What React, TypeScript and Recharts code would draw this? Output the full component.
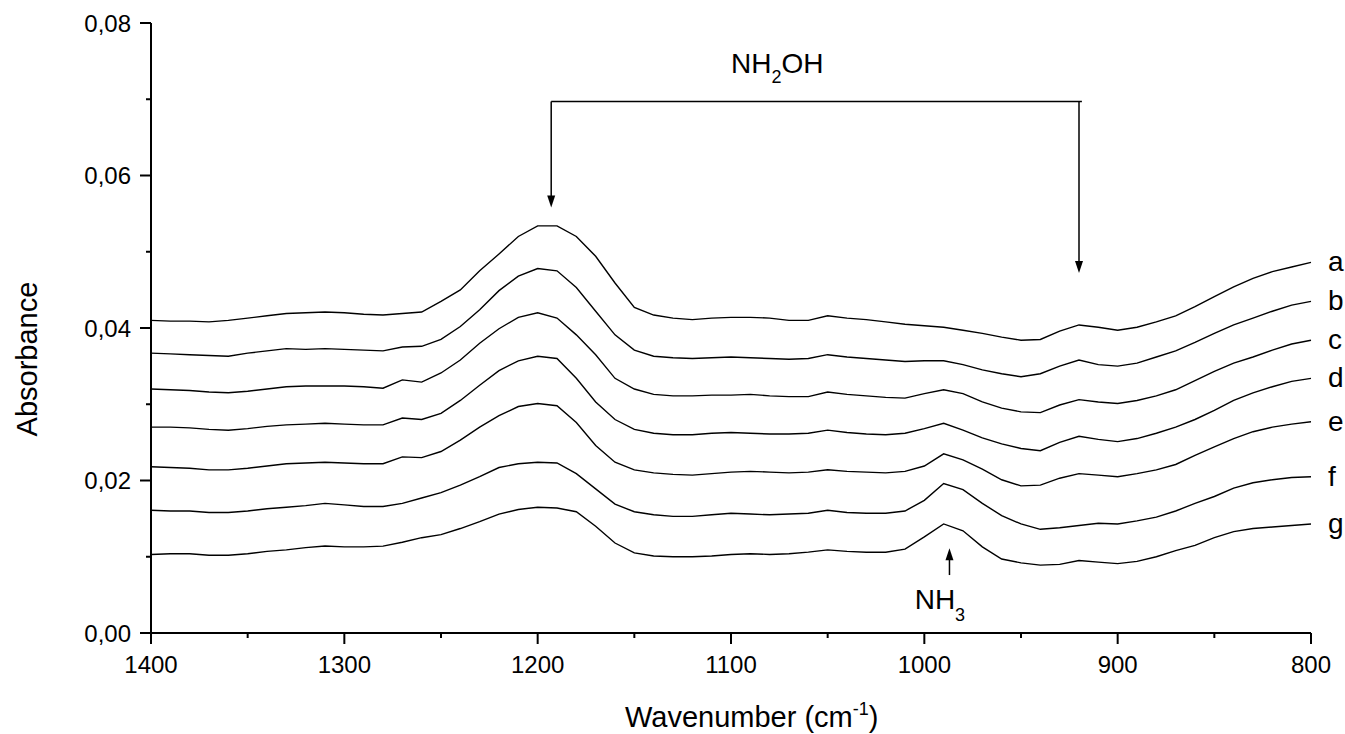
import { LineChart, Line, XAxis, YAxis, ReferenceLine, ReferenceDot } from 'recharts';

const FONT = '"Liberation Sans", Arial, sans-serif';

// wavenumbers, 1400 -> 800 cm-1
const wavenumbers = [
  1400, 1390, 1380, 1370, 1360, 1350, 1340, 1330, 1320, 1310,
  1300, 1290, 1280, 1270, 1260, 1250, 1240, 1230, 1220, 1210,
  1200, 1190, 1180, 1170, 1160, 1150, 1140, 1130, 1120, 1110,
  1100, 1090, 1080, 1070, 1060, 1050, 1040, 1030, 1020, 1010,
  1000, 990, 980, 970, 960, 950, 940, 930, 920, 910,
  900, 890, 880, 870, 860, 850, 840, 830, 820, 810, 800,
];

const spectrumA = [
  0.0410, 0.0409, 0.0409, 0.0408, 0.0410, 0.0413, 0.0416, 0.0419, 0.0420, 0.0421,
  0.0420, 0.0418, 0.0417, 0.0419, 0.0421, 0.0435, 0.0450, 0.0475, 0.0497, 0.0520,
  0.0534, 0.0534, 0.0520, 0.0494, 0.0459, 0.0427, 0.0417, 0.0413, 0.0411, 0.0413,
  0.0414, 0.0414, 0.0413, 0.0410, 0.0410, 0.0416, 0.0413, 0.0411, 0.0408, 0.0405,
  0.0403, 0.0401, 0.0397, 0.0393, 0.0388, 0.0384, 0.0385, 0.0396, 0.0404, 0.0401,
  0.0397, 0.0401, 0.0408, 0.0416, 0.0428, 0.0441, 0.0454, 0.0465, 0.0474, 0.0480, 0.0486,
];
const spectrumB = [
  0.0367, 0.0366, 0.0365, 0.0364, 0.0363, 0.0367, 0.0370, 0.0373, 0.0372, 0.0373,
  0.0372, 0.0371, 0.0370, 0.0375, 0.0376, 0.0385, 0.0402, 0.0424, 0.0449, 0.0468,
  0.0478, 0.0475, 0.0453, 0.0422, 0.0391, 0.0371, 0.0363, 0.0361, 0.0360, 0.0361,
  0.0362, 0.0361, 0.0360, 0.0359, 0.0360, 0.0365, 0.0362, 0.0360, 0.0358, 0.0356,
  0.0357, 0.0357, 0.0352, 0.0345, 0.0340, 0.0336, 0.0340, 0.0350, 0.0358, 0.0352,
  0.0350, 0.0354, 0.0362, 0.0370, 0.0381, 0.0393, 0.0404, 0.0413, 0.0422, 0.0430, 0.0435,
];
const spectrumC = [
  0.0320, 0.0319, 0.0318, 0.0316, 0.0315, 0.0317, 0.0320, 0.0323, 0.0324, 0.0324,
  0.0324, 0.0323, 0.0321, 0.0332, 0.0329, 0.0341, 0.0358, 0.0380, 0.0399, 0.0414,
  0.0420, 0.0413, 0.0391, 0.0365, 0.0334, 0.0320, 0.0313, 0.0311, 0.0311, 0.0312,
  0.0312, 0.0313, 0.0311, 0.0310, 0.0310, 0.0316, 0.0313, 0.0311, 0.0309, 0.0308,
  0.0314, 0.0319, 0.0314, 0.0303, 0.0295, 0.0290, 0.0289, 0.0299, 0.0306, 0.0303,
  0.0301, 0.0305, 0.0311, 0.0319, 0.0331, 0.0343, 0.0354, 0.0362, 0.0371, 0.0379, 0.0384,
];
const spectrumD = [
  0.0270, 0.0270, 0.0269, 0.0267, 0.0266, 0.0268, 0.0271, 0.0273, 0.0274, 0.0275,
  0.0274, 0.0273, 0.0273, 0.0282, 0.0280, 0.0288, 0.0305, 0.0325, 0.0344, 0.0357,
  0.0363, 0.0360, 0.0334, 0.0303, 0.0280, 0.0267, 0.0262, 0.0260, 0.0260, 0.0262,
  0.0263, 0.0262, 0.0261, 0.0261, 0.0262, 0.0266, 0.0263, 0.0261, 0.0260, 0.0262,
  0.0268, 0.0275, 0.0266, 0.0256, 0.0248, 0.0242, 0.0239, 0.0250, 0.0258, 0.0254,
  0.0251, 0.0255, 0.0262, 0.0270, 0.0280, 0.0292, 0.0305, 0.0315, 0.0323, 0.0330, 0.0334,
];
const spectrumE = [
  0.0218, 0.0217, 0.0216, 0.0214, 0.0214, 0.0216, 0.0219, 0.0222, 0.0223, 0.0224,
  0.0223, 0.0222, 0.0222, 0.0231, 0.0230, 0.0238, 0.0253, 0.0270, 0.0285, 0.0297,
  0.0301, 0.0298, 0.0276, 0.0246, 0.0224, 0.0214, 0.0210, 0.0208, 0.0207, 0.0209,
  0.0211, 0.0212, 0.0211, 0.0210, 0.0211, 0.0214, 0.0212, 0.0211, 0.0210, 0.0212,
  0.0219, 0.0235, 0.0227, 0.0215, 0.0201, 0.0193, 0.0194, 0.0203, 0.0209, 0.0207,
  0.0205, 0.0209, 0.0214, 0.0221, 0.0233, 0.0244, 0.0255, 0.0264, 0.0270, 0.0274, 0.0277,
];
const spectrumF = [
  0.0161, 0.0160, 0.0160, 0.0158, 0.0158, 0.0160, 0.0163, 0.0165, 0.0167, 0.0170,
  0.0168, 0.0166, 0.0166, 0.0170, 0.0177, 0.0184, 0.0194, 0.0205, 0.0217, 0.0222,
  0.0224, 0.0223, 0.0209, 0.0189, 0.0169, 0.0159, 0.0155, 0.0153, 0.0153, 0.0155,
  0.0157, 0.0156, 0.0155, 0.0156, 0.0157, 0.0161, 0.0158, 0.0157, 0.0157, 0.0160,
  0.0174, 0.0196, 0.0188, 0.0170, 0.0154, 0.0143, 0.0136, 0.0138, 0.0141, 0.0144,
  0.0143, 0.0147, 0.0152, 0.0160, 0.0170, 0.0179, 0.0190, 0.0197, 0.0201, 0.0204, 0.0205,
];
const spectrumG = [
  0.0103, 0.0104, 0.0104, 0.0102, 0.0102, 0.0104, 0.0107, 0.0109, 0.0112, 0.0114,
  0.0113, 0.0113, 0.0114, 0.0119, 0.0125, 0.0129, 0.0137, 0.0146, 0.0156, 0.0162,
  0.0165, 0.0164, 0.0159, 0.0140, 0.0118, 0.0105, 0.0101, 0.0100, 0.0100, 0.0101,
  0.0103, 0.0104, 0.0103, 0.0104, 0.0106, 0.0109, 0.0107, 0.0106, 0.0106, 0.0110,
  0.0126, 0.0143, 0.0134, 0.0113, 0.0097, 0.0092, 0.0089, 0.0090, 0.0095, 0.0093,
  0.0091, 0.0094, 0.0100, 0.0108, 0.0115, 0.0125, 0.0133, 0.0137, 0.0139, 0.0141, 0.0143,
];

const seriesKeys = ['a', 'b', 'c', 'd', 'e', 'f', 'g'];
const seriesValues = [spectrumA, spectrumB, spectrumC, spectrumD, spectrumE, spectrumF, spectrumG];

const xTicks = [1400, 1350, 1300, 1250, 1200, 1150, 1100, 1050, 1000, 950, 900, 850, 800];
const yTicks = [0, 0.01, 0.02, 0.03, 0.04, 0.05, 0.06, 0.07, 0.08];

// annotation anchors (wavenumber / absorbance)
const nh2ohBands = [1193, 920];
const nh2ohBracketY = 0.0697;
const nh2ohTips = [0.0558, 0.0472];
const nh3Band = 987;

const rows = wavenumbers.map((w, i) => {
  const row: Record<string, number> = { w };
  seriesKeys.forEach((k, j) => {
    row[k] = seriesValues[j][i];
  });
  return row;
});

const XTick = (props: any) => {
  const { x, y, payload } = props;
  const major = payload.value % 100 === 0;
  return (
    <g>
      <line x1={x} x2={x} y1={y - 11} y2={y - 11 + (major ? 11 : 5)} stroke="#000" strokeWidth={2} />
      {major && (
        <text x={x} y={y + 29} textAnchor="middle" fontSize={24} fontFamily={FONT} fill="#000">
          {payload.value}
        </text>
      )}
    </g>
  );
};

const YTick = (props: any) => {
  const { x, y, payload } = props;
  const major = Math.round(payload.value * 100) % 2 === 0;
  return (
    <g>
      <line x1={x + (major ? 0 : 6)} x2={x + 11} y1={y} y2={y} stroke="#000" strokeWidth={2} />
      {major && (
        <text x={x - 9} y={y + 8.5} textAnchor="end" fontSize={24} fontFamily={FONT} fill="#000">
          {payload.value.toFixed(2).replace('.', ',')}
        </text>
      )}
    </g>
  );
};

const ArrowDown = (p: any) => (
  <polygon points={`${p.cx},${p.cy} ${p.cx - 4},${p.cy - 12} ${p.cx + 4},${p.cy - 12}`} fill="#000" />
);

const ArrowUp = (p: any) => (
  <polygon points={`${p.cx},${p.cy} ${p.cx - 4},${p.cy + 12} ${p.cx + 4},${p.cy + 12}`} fill="#000" />
);

const Nh2ohText = (p: any) => (
  <text x={p.cx} y={p.cy} fontSize={28} fontFamily={FONT} fill="#000">
    NH<tspan fontSize={18} dy={10}>2</tspan><tspan dy={-10}>OH</tspan>
  </text>
);

const Nh3Text = (p: any) => (
  <text x={p.cx} y={p.cy} fontSize={28} fontFamily={FONT} fill="#000">
    NH<tspan fontSize={18} dy={12}>3</tspan>
  </text>
);

const letterShape = (letter: string) => (p: any) => (
  <text x={p.cx + 17} y={p.cy + 9} fontSize={28} fontFamily={FONT} fill="#000">
    {letter}
  </text>
);

const yTitle = () => (
  <text
    x={37}
    y={359}
    transform="rotate(-90, 37, 359)"
    textAnchor="middle"
    fontSize={29}
    fontFamily={FONT}
    fill="#000"
  >
    Absorbance
  </text>
);

const xTitle = () => (
  <text x={625} y={727} fontSize={29} fontFamily={FONT} fill="#000">
    Wavenumber (cm<tspan fontSize={18} dy={-12}>-1</tspan><tspan dy={12}>)</tspan>
  </text>
);

export default function App() {
  return (
    <div style={{ position: 'absolute', left: 0, top: 0, background: '#fff' }}>
      <LineChart width={1345} height={734} data={rows} margin={{ top: 23, right: 34, bottom: 0, left: 0 }}>
        <XAxis
          dataKey="w"
          type="number"
          domain={[800, 1400]}
          reversed
          ticks={xTicks}
          interval={0}
          tickSize={11}
          tickMargin={0}
          tickLine={false}
          tick={<XTick />}
          axisLine={{ stroke: '#000', strokeWidth: 2 }}
          height={101}
          label={xTitle}
        />
        <YAxis
          type="number"
          domain={[0, 0.08]}
          ticks={yTicks}
          interval={0}
          tickSize={11}
          tickMargin={0}
          tickLine={false}
          tick={<YTick />}
          axisLine={{ stroke: '#000', strokeWidth: 2 }}
          width={151}
          label={yTitle}
        />
        {seriesKeys.map((k) => (
          <Line
            key={k}
            type="linear"
            dataKey={k}
            stroke="#000"
            strokeWidth={1.4}
            dot={false}
            isAnimationActive={false}
          />
        ))}
        <ReferenceLine
          segment={[{ x: nh2ohBands[0], y: nh2ohBracketY }, { x: nh2ohBands[1] - 1.5, y: nh2ohBracketY }]}
          stroke="#000"
          strokeWidth={1.5}
          ifOverflow="visible"
        />
        {nh2ohBands.map((b, i) => (
          <ReferenceLine
            key={`v${b}`}
            segment={[{ x: b, y: nh2ohBracketY }, { x: b, y: nh2ohTips[i] + 0.0012 }]}
            stroke="#000"
            strokeWidth={1.5}
            ifOverflow="visible"
          />
        ))}
        {nh2ohBands.map((b, i) => (
          <ReferenceDot key={`h${b}`} x={b} y={nh2ohTips[i]} r={0} shape={ArrowDown} ifOverflow="visible" />
        ))}
        <ReferenceDot x={1100} y={0.0734} r={0} shape={Nh2ohText} ifOverflow="visible" />
        <ReferenceLine
          segment={[{ x: nh3Band, y: 0.0076 }, { x: nh3Band, y: 0.0100 }]}
          stroke="#000"
          strokeWidth={1.5}
          ifOverflow="visible"
        />
        <ReferenceDot x={nh3Band} y={0.0111} r={0} shape={ArrowUp} ifOverflow="visible" />
        <ReferenceDot x={1005} y={0.0032} r={0} shape={Nh3Text} ifOverflow="visible" />
        {seriesKeys.map((k, j) => (
          <ReferenceDot
            key={`lbl${k}`}
            x={800}
            y={seriesValues[j][seriesValues[j].length - 1]}
            r={0}
            shape={letterShape(k)}
            ifOverflow="visible"
          />
        ))}
      </LineChart>
    </div>
  );
}
